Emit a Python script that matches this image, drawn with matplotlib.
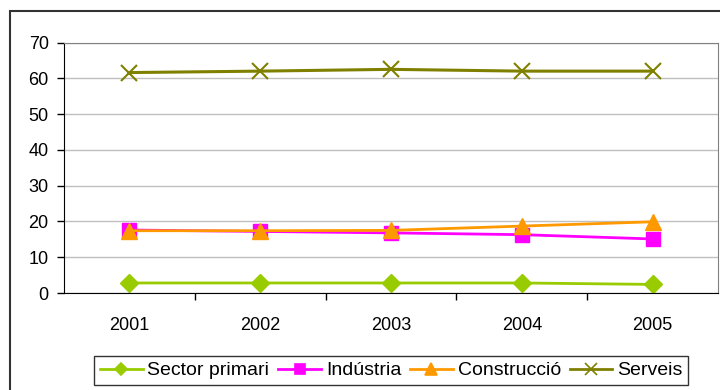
import matplotlib.pyplot as plt
from matplotlib.lines import Line2D
from matplotlib.patches import Rectangle
import numpy as np

plt.rcParams['font.family'] = ['Liberation Sans', 'DejaVu Sans']

years = ['2001', '2002', '2003', '2004', '2005']
primari = [2.8, 2.8, 2.8, 2.8, 2.4]
industria = [17.6, 17.2, 16.8, 16.3, 15.1]
construccio = [17.4, 17.4, 17.5, 18.7, 19.9]
serveis = [61.6, 62.0, 62.5, 62.0, 62.0]

names = ['Sector primari', 'Indústria', 'Construcció', 'Serveis']
colors = ['#99CC00', '#FF00FF', '#FF9900', '#808000']
markers = ['D', 's', '^', 'x']

fig = plt.figure(figsize=(7.2, 3.9), dpi=100)
ax = fig.add_axes([64/720, 1-293/390, 654/720, 250.5/390])

x = np.arange(len(years))
ax.plot(x, primari, color=colors[0], lw=2, marker='D', ms=9)
ax.plot(x, industria, color=colors[1], lw=2, marker='s', ms=10)
ax.plot(x, construccio, color=colors[2], lw=2, marker='^', ms=12)
ax.plot(x, serveis, color=colors[3], lw=2.2, marker='x', ms=11, mew=1.5)

ax.set_xlim(-0.5, 4.5)
ax.set_ylim(0, 70)
ax.set_yticks(range(0, 71, 10))
ax.set_xticks(x)
ax.set_xticklabels(years)
ax.set_xticks(np.arange(0.5, 4.5, 1), minor=True)
ax.tick_params(axis='x', which='major', length=0, pad=17, labelsize=13)
ax.tick_params(axis='x', which='minor', length=5, width=1, direction='out')
ax.tick_params(axis='y', length=5, width=1, direction='out', pad=6, labelsize=13)
ax.yaxis.grid(True, color='#c0c0c0', lw=1)
ax.set_axisbelow(True)
for s in ['top', 'right']:
    ax.spines[s].set_color('#808080')
for s in ['left', 'bottom']:
    ax.spines[s].set_color('black')

# legend uses smaller markers than the plot
handles = [Line2D([], [], color=c, lw=2, marker=m, ms=ms, mew=1.2)
           for c, m, ms in zip(colors, markers, [6, 6.5, 8, 8])]
leg = ax.legend(handles, names, loc='upper left',
                bbox_to_anchor=(94/720, 1-356/390),
                bbox_transform=fig.transFigure, ncol=4, fontsize=14,
                frameon=True, fancybox=False, edgecolor='black',
                handlelength=2.2, handletextpad=0.25, columnspacing=0.45,
                borderpad=0.3, borderaxespad=0)
leg.get_frame().set_linewidth(1)

# outer chart border
fig.patches.append(Rectangle((10/720, -0.5), 1.2, 1.5 - 11/390,
                             transform=fig.transFigure, fill=False,
                             edgecolor='#333333', lw=1.5))

fig.savefig('out.png', dpi=100)
